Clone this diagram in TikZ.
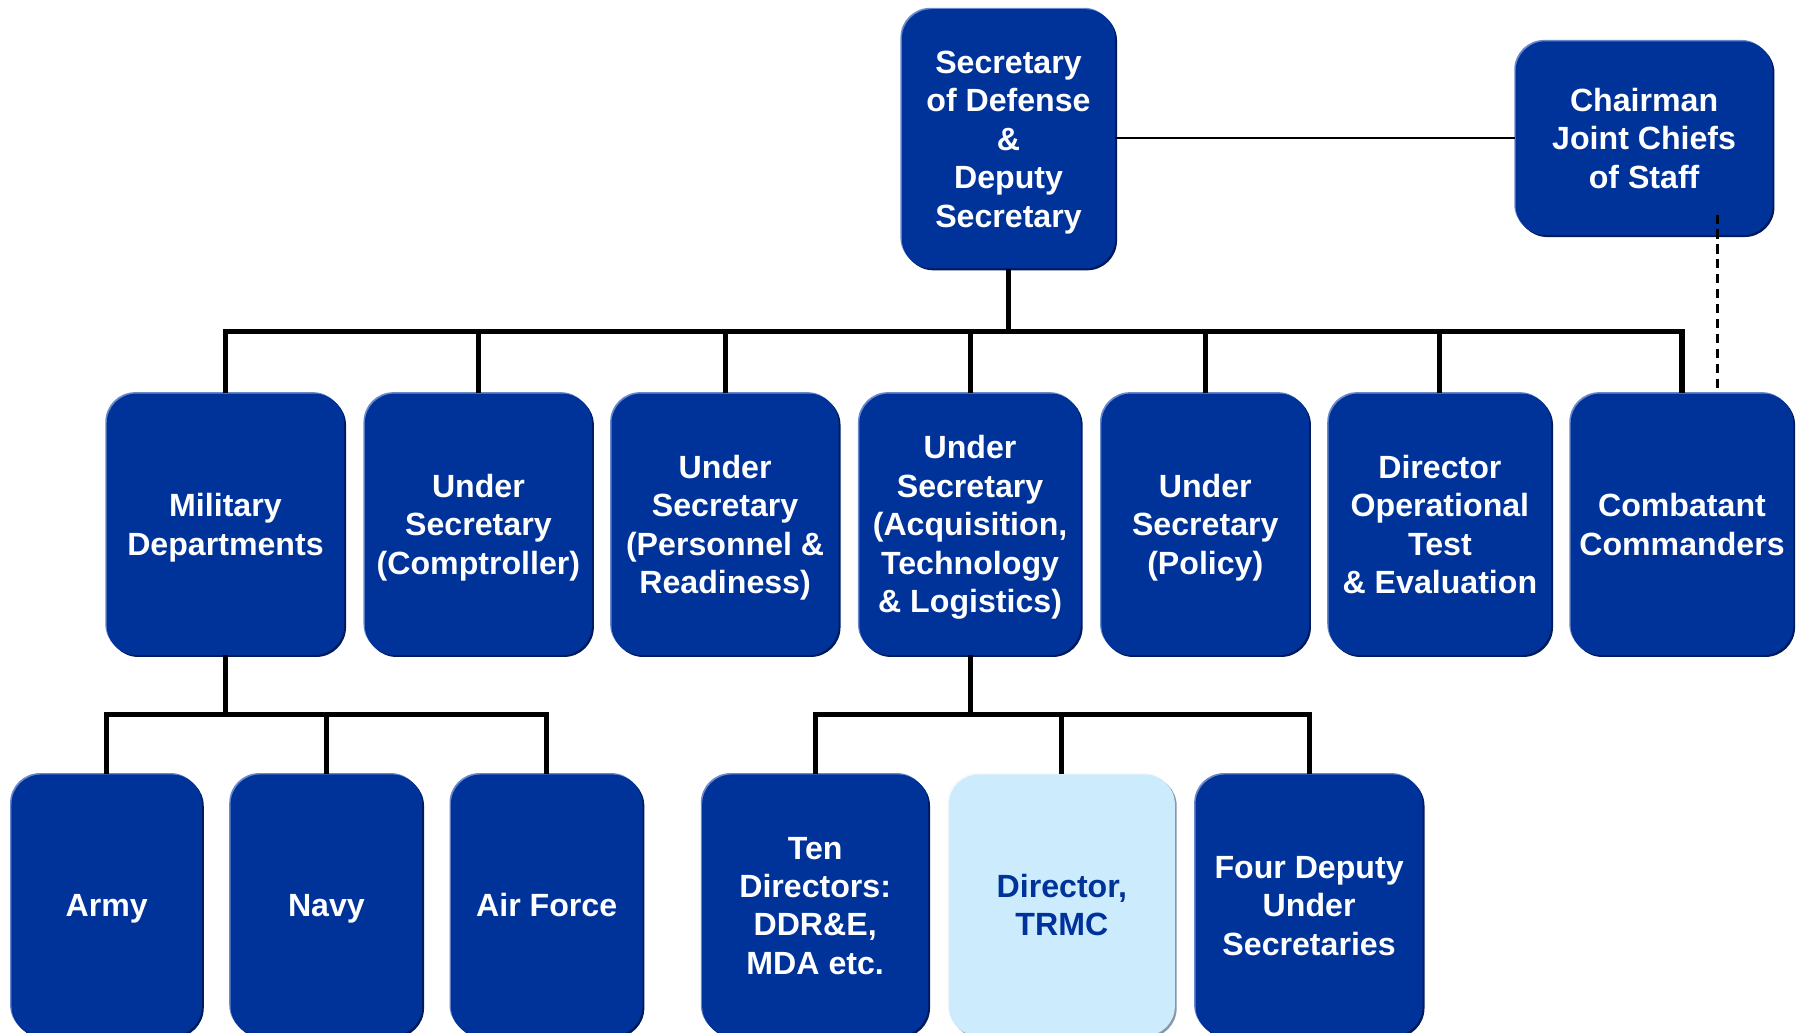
\documentclass[tikz,border=0pt]{standalone}
\usepackage{fontspec}
\setmainfont{Liberation Sans}
\usetikzlibrary{shadows}
\definecolor{dodblue}{HTML}{003399}
\definecolor{dodshadow}{HTML}{001A5C}
\definecolor{dodlight}{HTML}{6A89CC}
\definecolor{trmcfill}{HTML}{CCEBFD}
\definecolor{trmcshadow}{HTML}{8A97A8}
\definecolor{trmclight}{HTML}{F4FAFF}
\newcommand{\boxstrut}{\rule[-6.75pt]{0pt}{33.5pt}}
\tikzset{
  orgbox/.style={rounded corners=26pt, fill=dodblue, text=white,
    font=\bfseries\fontsize{28}{33.5}\selectfont, align=center, inner sep=0pt,
    execute at end node=\boxstrut,
    general shadow={fill=dodlight, shadow xshift=-1.2pt, shadow yshift=1.2pt},
    general shadow={fill=dodshadow, shadow xshift=1.6pt, shadow yshift=-1.6pt}},
  lightbox/.style={rounded corners=26pt, fill=trmcfill, text=dodblue,
    font=\bfseries\fontsize{28}{33.5}\selectfont, align=center, inner sep=0pt,
    execute at end node=\boxstrut,
    general shadow={fill=trmclight, shadow xshift=-1.2pt, shadow yshift=1.2pt},
    general shadow={fill=trmcshadow, shadow xshift=1.6pt, shadow yshift=-1.6pt}},
  rowtwo/.style={minimum height=228pt},
  rowthree/.style={minimum height=228pt},
  busline/.style={line width=4.4pt, draw=black},
  thinline/.style={line width=1.5pt, draw=black},
  dashline/.style={line width=2pt, draw=black, dash pattern=on 8pt off 5pt}
}
\begin{document}
\begin{tikzpicture}[x=1pt,y=1pt]
\useasboundingbox[fill=white] (0,0) rectangle (1568,-900);

% top row
\node[orgbox, minimum width=186pt, minimum height=226pt] (secdef) at (879,-121)
  {\boxstrut Secretary\\of Defense\\\&\\Deputy\\Secretary};
\node[orgbox, minimum width=224pt, minimum height=169pt] (chair) at (1433,-120.5)
  {\boxstrut Chairman\\Joint Chiefs\\of Staff};

% second row
\node[orgbox, rowtwo, minimum width=207pt] (mil) at (196.5,-457) {\boxstrut Military\\Departments};
\node[orgbox, rowtwo, minimum width=198pt] (comp) at (417,-457) {\boxstrut Under\\Secretary\\(Comptroller)};
\node[orgbox, rowtwo, minimum width=198pt] (pers) at (632,-457) {\boxstrut Under\\Secretary\\(Personnel \&\\Readiness)};
\node[orgbox, rowtwo, minimum width=193pt] (atl) at (845.5,-457) {\boxstrut Under\\Secretary\\(Acquisition,\\Technology\\\& Logistics)};
\node[orgbox, rowtwo, minimum width=181pt] (pol) at (1050.5,-457) {\boxstrut Under\\Secretary\\(Policy)};
\node[orgbox, rowtwo, minimum width=194pt] (dote) at (1255,-457) {\boxstrut Director\\Operational\\Test\\\& Evaluation};
\node[orgbox, rowtwo, minimum width=194pt] (ccmd) at (1466,-457) {\boxstrut Combatant\\Commanders};

% third row
\node[orgbox, rowthree, minimum width=166pt] (army) at (93,-789) {\boxstrut Army};
\node[orgbox, rowthree, minimum width=167pt] (navy) at (284.5,-789) {\boxstrut Navy};
\node[orgbox, rowthree, minimum width=167pt] (af) at (476.5,-789) {\boxstrut Air Force};
\node[orgbox, rowthree, minimum width=197pt] (ten) at (710.5,-789) {\boxstrut Ten\\Directors:\\DDR\&E,\\MDA etc.};
\node[lightbox, rowthree, minimum width=197pt] (trmc) at (925.5,-789) {\boxstrut Director,\\TRMC};
\node[orgbox, rowthree, minimum width=198pt] (four) at (1141,-789) {\boxstrut Four Deputy\\Under\\Secretaries};

% bus levels
\coordinate (busy) at (0,-289);
\coordinate (subbusy) at (0,-623);
\coordinate (dtop) at (1497,-187);

% secdef to chairman
\draw[thinline] (secdef.east |- 0,-120) -- (chair.west |- 0,-120);
% dashed chairman to combatant commanders
\draw[dashline] (dtop) -- (dtop |- ccmd.north);

% main bus
\draw[busline] (secdef.south) -- (secdef.south |- busy);
\draw[busline] (mil.north) |- (ccmd.north |- busy) -- (ccmd.north);
\draw[busline] (comp.north) -- (comp.north |- busy);
\draw[busline] (pers.north) -- (pers.north |- busy);
\draw[busline] (atl.north) -- (atl.north |- busy);
\draw[busline] (pol.north) -- (pol.north |- busy);
\draw[busline] (dote.north) -- (dote.north |- busy);

% military departments sub-bus
\draw[busline] (mil.south) -- (mil.south |- subbusy);
\draw[busline] (army.north) |- (af.north |- subbusy) -- (af.north);
\draw[busline] (navy.north) -- (navy.north |- subbusy);

% AT&L sub-bus
\draw[busline] (atl.south) -- (atl.south |- subbusy);
\draw[busline] (ten.north) |- (four.north |- subbusy) -- (four.north);
\draw[busline] (trmc.north) -- (trmc.north |- subbusy);
\end{tikzpicture}
\end{document}
